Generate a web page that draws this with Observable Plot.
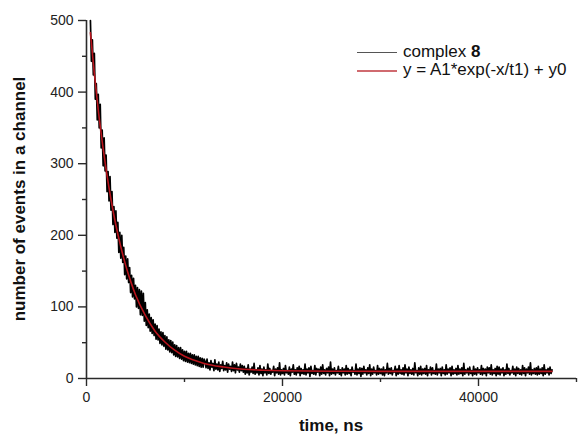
<!DOCTYPE html>
<html>
<head>
<meta charset="utf-8">
<script src="https://cdn.jsdelivr.net/npm/d3@7"></script>
<script src="https://cdn.jsdelivr.net/npm/@observablehq/plot@0.6"></script>
<style>
  html, body { margin: 0; padding: 0; background: #fff; }
  #chart { width: 579px; height: 437px; }
</style>
</head>
<body>
<div id="chart"></div>
<script>
// ---- data ----
const channelStart = 400;   // ns, first channel
const channelStep = 100;    // ns per plotted channel
const countsDecay = [500,443,473,424,454,390,412,361,397,350,
  383,322,347,297,336,290,312,261,289,248,
  282,235,261,215,240,204,234,196,218,176,
  204,168,200,162,183,145,171,139,167,134,
  155,120,144,114,140,111,130,100,127,98,
  124,89,122,88,119,80,106,74,96,71,
  90,66,85,63,82,60,76,55,74,54,
  69,49,65,47,64,45,60,41,58,40,
  54,37,53,36,51,33,47,31,46,30,
  43,28,43,27,40,25,38,24,38,23,
  35,22,35,21,33,20,33,19,31,18,
  31,17,29,16,28,16,27];
const countsShoulder = [24,15,27,14,22,12,25,16,21,11,26,13,20,12,23,10,19,14,24,11,
  18,12,22,9,20,13,17,10,23,11,19,8,21,12,16,9,20,11,18,9];
const countsTail = [
  17,6,14,8,19,5,13,9,16,7,21,6,12,8,15,5,18,7,13,4,
  16,8,12,5,20,7,14,6,11,9,17,4,13,8,15,6,22,5,12,7,
  14,5,18,8,11,6,16,4,13,9,19,6,12,5,15,8,17,4,14,7,
  12,6,20,5,13,8,15,3,17,7,11,6,18,5,14,9,13,4,16,6,
  19,7,12,5,14,8,16,4,23,6,13,7,15,5,11,8,17,6,12,4,
  15,8,13,5,18,6,14,7,12,4,16,9,11,6,20,5,13,7,15,3,
  14,6,17,8,12,5,15,7,19,4,13,6,16,8,11,5,18,6,14,7,
  13,5,16,4,12,8,21,6,14,7,15,5,11,9,17,4,13,6,18,7,
  12,6,15,5,19,8,13,4,16,7,12,6,14,5,22,8,11,4,15,6,
  17,5,13,7,14,6,18,4,12,8,16,5,15,7,11,6,20,5,13,8,
  14,4,16,7,12,5,19,6,13,8,15,4,17,6,12,7,14,5,18,6,
  13,7,15,4,21,6,12,8,14,5,16,7,11,4,17,6,13,5,15,8,
  12,6,18,5,14,7,13,4,16,8,15,6,19,5,12,7,14,4,17,6,
  16,5,13,8,15,4,12,6,20,7,14,5,11,8,17,6,13,4,16,7,
  14,6,12,5,18,7,15,4,13,8,16,6,22,5,12,7,14,6,15,5,
  17,6,13,7,15,4,19,6,12,8,14,5,16,7,12];
const fitTime = [400,800,1200,1600,2000,2500,3000,3500,4000,4500,5000,6000,7000,8000,9000,10000,11000,12000,14000,16000,18000,20000,25000,30000,47500];
const fitCounts = [483,426,375,331,292,250,214,184,158,136,117,88,66,51,39.5,31,25.5,21,16,13,11.6,10.8,10.2,10,10];
const yMajorTicks = [0,100,200,300,400,500];
const yMinorTicks = [50,150,250,350,450];
const xMajorTicks = [0,20000,40000];
const xMinorTicks = [10000,30000,50000];
const seriesNames = ["complex ", "8", "y = A1*exp(-x/t1) + y0"];

const counts = countsDecay.concat(countsShoulder, countsTail);
const measured = counts.map((n, i) => ({t: channelStart + i * channelStep, n}));
const fit = fitTime.map((t, i) => ({t, n: fitCounts[i]}));

const axisColor = "#2a2a2a";
const chart = Plot.plot({
  width: 579,
  height: 437,
  marginLeft: 86,
  marginRight: 3,
  marginTop: 20,
  marginBottom: 59,
  style: {fontFamily: "'Liberation Sans', Arial, sans-serif", fontSize: "14px", color: "#222", background: "#fff"},
  x: {domain: [0, 50000]},
  y: {domain: [0, 500]},
  marks: [
    Plot.line(measured, {x: "t", y: "n", stroke: "#000", strokeWidth: 1.7}),
    Plot.line(fit, {x: "t", y: "n", stroke: "#b8141c", strokeWidth: 1.6, curve: "monotone-x"}),
    Plot.axisY(yMajorTicks, {tickSize: 8, tickPadding: 5, label: null, stroke: axisColor, strokeWidth: 1.4}),
    Plot.axisY(yMinorTicks, {tickSize: 4, tickFormat: () => "", label: null, stroke: axisColor, strokeWidth: 1.4}),
    Plot.axisX(xMajorTicks, {tickSize: 8, tickPadding: 6, label: null, stroke: axisColor, strokeWidth: 1.4, tickFormat: d => String(d)}),
    Plot.axisX(xMinorTicks, {tickSize: 4, tickFormat: () => "", label: null, stroke: axisColor, strokeWidth: 1.4}),
    Plot.ruleX([0], {stroke: axisColor, strokeWidth: 1.6}),
    Plot.ruleY([0], {stroke: axisColor, strokeWidth: 1.6})
  ]
});
document.getElementById("chart").appendChild(chart);

// axis titles and legend
const svg = d3.select(chart);
svg.append("text")
  .attr("x", 331).attr("y", 427)
  .attr("text-anchor", "middle").attr("dominant-baseline", "middle")
  .attr("font-size", 17).attr("font-weight", "bold").attr("fill", "#111")
  .text("time, ns");
svg.append("text")
  .attr("transform", "translate(21,199) rotate(-90)")
  .attr("text-anchor", "middle").attr("dominant-baseline", "middle")
  .attr("font-size", 17).attr("font-weight", "bold").attr("fill", "#111")
  .text("number of events in a channel");

const lg = svg.append("g").attr("font-size", 17).attr("fill", "#111").attr("text-anchor", "start");
lg.append("line").attr("x1", 357).attr("x2", 397).attr("y1", 52.5).attr("y2", 52.5)
  .attr("stroke", "#555").attr("stroke-width", 1.2);
const t1 = lg.append("text").attr("x", 403).attr("y", 52.5).attr("dominant-baseline", "middle");
t1.append("tspan").text(seriesNames[0]);
t1.append("tspan").attr("font-weight", "bold").text(seriesNames[1]);
lg.append("line").attr("x1", 357).attr("x2", 397).attr("y1", 71).attr("y2", 71)
  .attr("stroke", "#c0393f").attr("stroke-width", 1.4);
lg.append("text").attr("x", 403).attr("y", 71).attr("dominant-baseline", "middle")
  .text(seriesNames[2]);
</script>
</body>
</html>
